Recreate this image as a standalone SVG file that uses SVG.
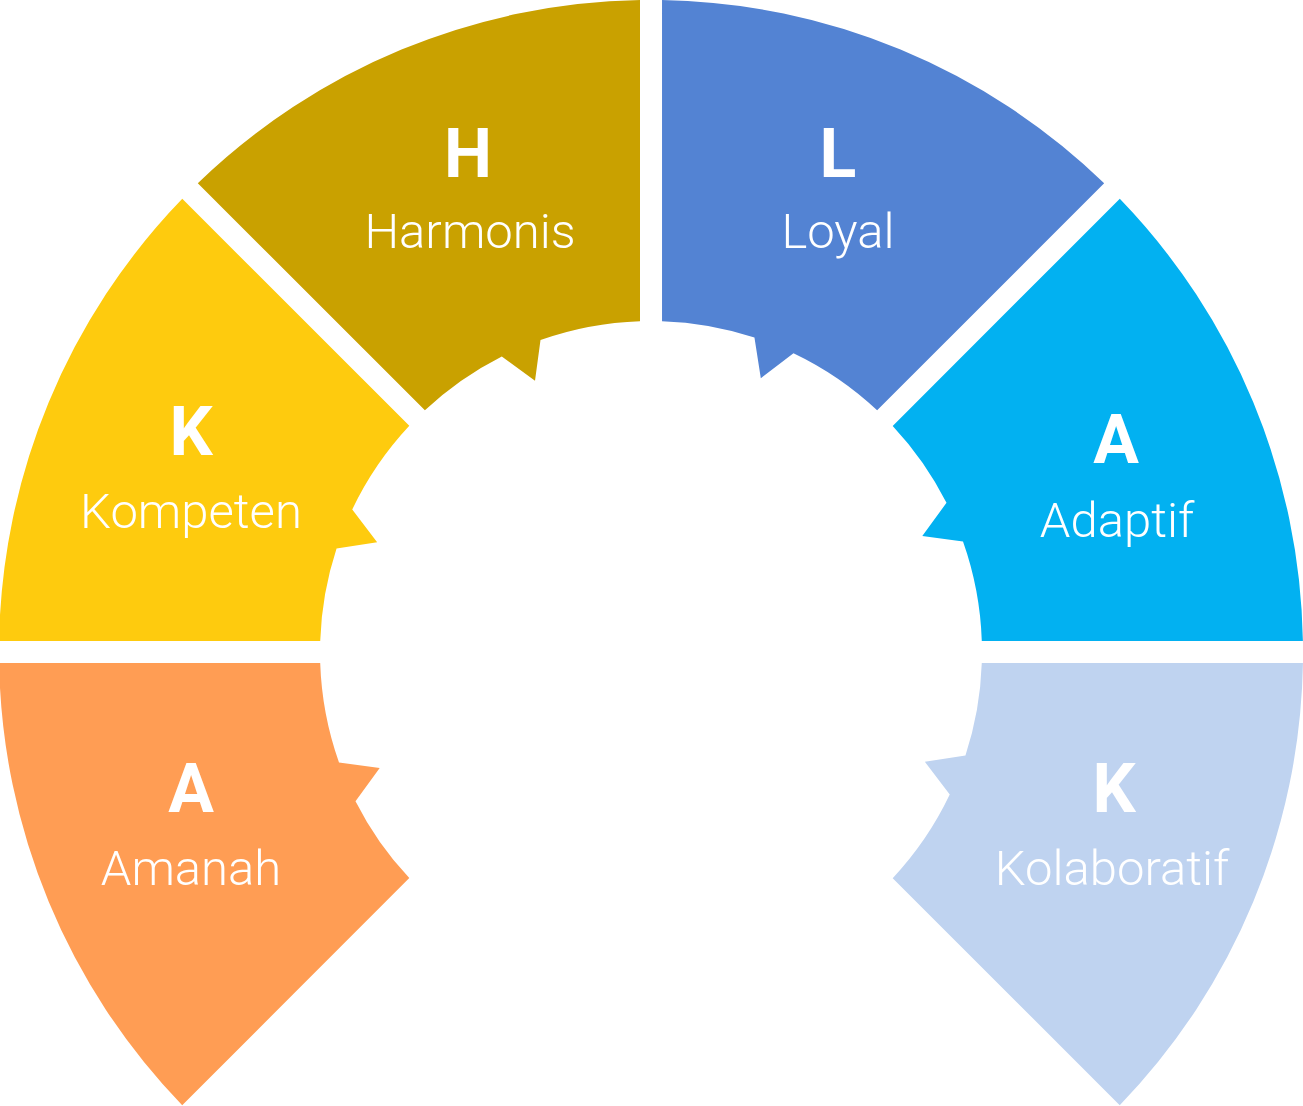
<svg xmlns="http://www.w3.org/2000/svg" xmlns:xlink="http://www.w3.org/1999/xlink" width="1303" height="1106" viewBox="0 0 1303 1106">
<style>
.ltr{font-family:Roboto,"Liberation Sans",sans-serif;font-weight:700;font-size:68px;fill:#fff;text-anchor:middle}
.lbl{font-family:Roboto,"Liberation Sans",sans-serif;font-weight:300;font-size:49px;fill:#fff;text-anchor:middle}
</style>
<defs>
<path id="seg" d="M651.9 -11 A652 652 0 0 0 468.8 -453.2 L241.7 -226.1 A331 331 0 0 1 295.5 -149.2 L271.3 -116 L312 -110.5 A331 331 0 0 1 330.8 -11 Z"/>
</defs>
<rect width="1303" height="1106" fill="#fff"/>
<g id="connectors"/>
<g id="harmonis">
<use xlink:href="#seg" href="#seg" transform="translate(651 652) rotate(-90)" fill="#C9A100"/>
<text class="ltr" x="468" y="177">H</text>
<text class="lbl" x="470" y="248">Harmonis</text>
</g>
<g id="loyal">
<use xlink:href="#seg" href="#seg" transform="translate(651 652) rotate(-45)" fill="#5383D3"/>
<text class="ltr" x="838" y="177">L</text>
<text class="lbl" x="838" y="248">Loyal</text>
</g>
<g id="adaptif">
<use xlink:href="#seg" href="#seg" transform="translate(651 652)" fill="#02B1F1"/>
<text class="ltr" x="1116" y="463">A</text>
<text class="lbl" x="1117" y="537">Adaptif</text>
</g>
<g id="kolaboratif">
<use xlink:href="#seg" href="#seg" transform="translate(651 652) rotate(45)" fill="#BFD3F0"/>
<text class="ltr" x="1114" y="812">K</text>
<text class="lbl" x="1112" y="885">Kolaboratif</text>
</g>
<g id="amanah">
<use xlink:href="#seg" href="#seg" transform="translate(651 652) rotate(-180)" fill="#FF9D54"/>
<text class="ltr" x="191" y="812">A</text>
<text class="lbl" x="191" y="885">Amanah</text>
</g>
<g id="kompeten">
<use xlink:href="#seg" href="#seg" transform="translate(651 652) rotate(-135)" fill="#FECB0E"/>
<text class="ltr" x="191" y="455">K</text>
<text class="lbl" x="191" y="528">Kompeten</text>
</g>
</svg>
